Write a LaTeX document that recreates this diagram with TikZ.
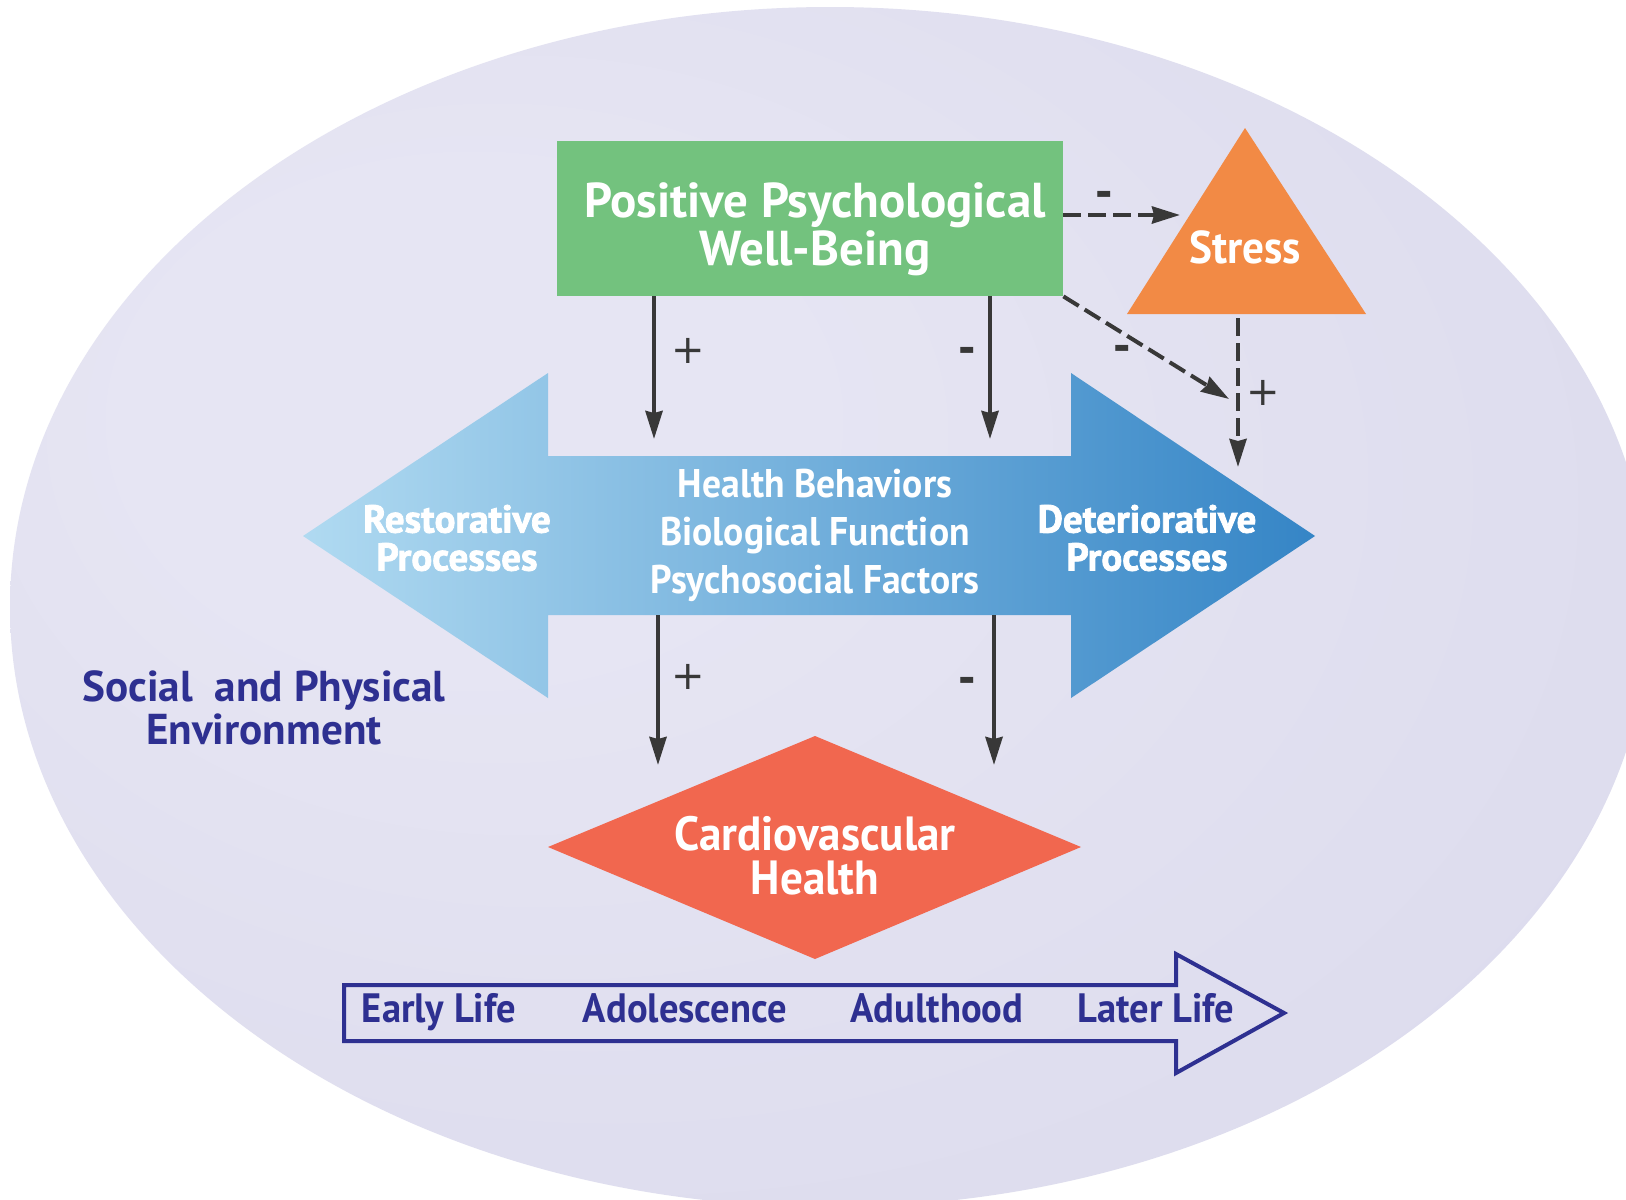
\documentclass[tikz,border=0pt]{standalone}
\usepackage{fontspec}
\setmainfont{PT Sans}
\newfontfamily\narrowfont{PT Sans}[FakeStretch=0.94]
\newfontfamily\heavyfont{PT Sans Bold}[FakeBold=2]
\newfontfamily\signfont{DejaVu Sans}
\usetikzlibrary{arrows.meta}
\definecolor{bgA}{HTML}{E6E5F3}
\definecolor{bgB}{HTML}{DCDBED}
\definecolor{bgC}{HTML}{CCC8E4}
\definecolor{bgD}{HTML}{C3BDDE}
\definecolor{pwbgreen}{HTML}{73C27E}
\definecolor{stressorange}{HTML}{F28A45}
\definecolor{cvhred}{HTML}{F1674F}
\definecolor{navy}{HTML}{2E3091}
\definecolor{linegray}{HTML}{383838}
\definecolor{blueL}{HTML}{B0DAF1}
\definecolor{blueM}{HTML}{7DB3E0}
\definecolor{blueR}{HTML}{3585C6}
\pgfdeclareradialshading{ellshade}{\pgfpoint{-14bp}{10bp}}{color(0bp)=(bgA); color(10bp)=(bgA); color(35bp)=(bgB); color(43bp)=(bgC); color(47bp)=(bgD); color(50bp)=(bgD)}
\begin{document}
\begin{tikzpicture}[x=0.5pt,y=-0.5pt,
  solidarrow/.style={draw=linegray, line width=2pt, -{Stealth[length=14pt,width=8.5pt,inset=1pt]}},
  dasharrow/.style={solidarrow, dash pattern=on 9pt off 3.5pt},
  sign/.style={anchor=base, text=linegray, font=\signfont\fontsize{20}{20}\selectfont},
  minus/.style={anchor=base, text=linegray, font=\signfont\bfseries\fontsize{21}{21}\selectfont},
  whitetext/.style={text=white, align=center, inner sep=0pt},
  navytext/.style={text=navy, align=center, inner sep=0pt, anchor=base, font=\narrowfont\bfseries\fontsize{20.5}{20.5}\selectfont}]
\useasboundingbox (0,0) rectangle (1626,1199);
\fill[white] (0,0) rectangle (1626,1199);
\shade[shading=ellshade] (830,607) ellipse [x radius=410pt, y radius=300pt];

% big double arrow
\shade[left color=blueL, middle color=blueM, right color=blueR]
  (303,536) -- (548,373) -- (548,456) -- (1071,456) -- (1071,373) -- (1315,536)
  -- (1071,698) -- (1071,615) -- (548,615) -- (548,698) -- cycle;
\coordinate (shaftT) at (815,456);
\coordinate (shaftB) at (815,615);

% green box
\node[fill=pwbgreen, minimum width=253pt, minimum height=77.5pt, inner sep=0pt] (pwb) at (810,218.5) {};
\node[whitetext, font=\bfseries\fontsize{24.5}{24}\selectfont] (pwbtext) at (815,229) {Positive Psychological\\Well-Being};

% stress triangle
\fill[stressorange] (1245,128) -- (1366,314) -- (1127,314) -- cycle;
\node[whitetext, font=\narrowfont\bfseries\fontsize{23}{23}\selectfont] (stress) at (1245,247) {Stress};
\coordinate (stbase) at (1238,318);

% diamond
\fill[cvhred] (548,847) -- (815,736) -- (1081,847) -- (815,959) -- cycle;
\node[whitetext, font=\narrowfont\bfseries\fontsize{24}{22}\selectfont] (cvh) at (815,856) {Cardiovascular\\Health};

% arrow texts
\node[whitetext, font=\heavyfont\fontsize{19.5}{19}\selectfont] (rest) at (457,538) {Restorative\\Processes};
\node[whitetext, font=\heavyfont\fontsize{19.5}{19}\selectfont] (det) at (1147,538) {Deteriorative\\Processes};
\node[whitetext, font=\narrowfont\bfseries\fontsize{20}{24}\selectfont] (mid) at (815,535) {Health Behaviors\\Biological Function\\Psychosocial Factors};

% environment
\node[whitetext, text=navy, font=\bfseries\fontsize{21.6}{21.5}\selectfont] (env) at (264,708) {Social\ \ and Physical\\Environment};

% timeline
\draw[navy, line width=2pt] (344,985) -- (1176,985) -- (1176,954) -- (1284,1013)
  -- (1176,1073) -- (1176,1041) -- (344,1041) -- cycle;
\node[navytext] (early) at (439,1022) {Early Life};
\node[navytext] (adol) at (685,1022) {Adolescence};
\node[navytext] (adult) at (937,1022) {Adulthood};
\node[navytext] (later) at (1156,1022) {Later Life};

% connectors
\coordinate (c1) at (654,439);
\coordinate (c2) at (990,439);
\coordinate (c3) at (658,765);
\coordinate (c4) at (994,765);
\coordinate (st1) at (1180,215);
\coordinate (st2) at (1229,399);
\coordinate (st3) at (1238,467);
\draw[solidarrow] (pwb.south -| c1) -- (c1);
\draw[solidarrow] (pwb.south -| c2) -- (c2);
\draw[solidarrow] (shaftB -| c3) -- (c3);
\draw[solidarrow] (shaftB -| c4) -- (c4);
\draw[dasharrow] (pwb.east |- st1) -- (st1);
\draw[dasharrow] (pwb.south east) -- (st2);
\draw[dasharrow] (stbase) -- (st3);

% signs
\node[sign] (s1) at (688,363) {+};
\node[minus] (s2) at (967,362) {-};
\node[sign] (s3) at (688,689) {+};
\node[minus] (s4) at (967,692) {-};
\node[minus] (s5) at (1104,206) {-};
\node[minus] (s6) at (1122,360) {-};
\node[sign] (s7) at (1263,405) {+};
\end{tikzpicture}
\end{document}
